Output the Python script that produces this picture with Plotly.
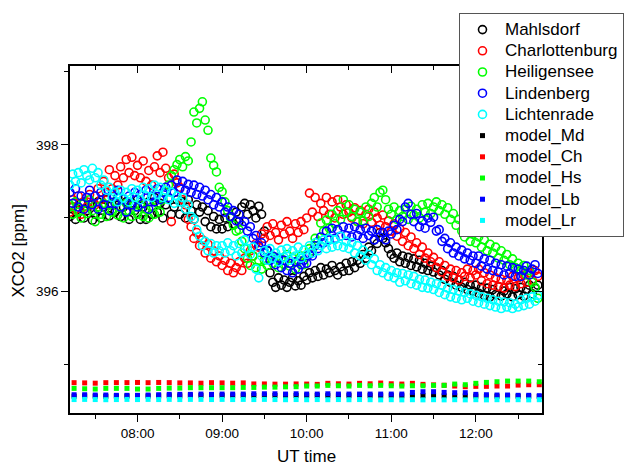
import plotly.graph_objects as go
from datetime import datetime, timedelta

FONT = "Liberation Sans, Arial, sans-serif"
DAY = "2000-01-01"

# ---------------- data ----------------
obs_start = "07:12"      # first observation time
obs_step_min = 2         # observation sampling (minutes)
mod_start = "07:15"      # first model time
mod_step_min = 7.5       # model sampling (minutes)

stations = ["Mahlsdorf", "Charlottenburg", "Heiligensee", "Lindenberg", "Lichtenrade"]
models = ["model_Md", "model_Ch", "model_Hs", "model_Lb", "model_Lr"]

mahlsdorf = [
    397.02, 397.15, 396.98, 397.12, 397.20, 397.00, 397.10, 397.18, 396.97,
    397.05, 397.22, 397.00, 397.15, 397.25, 397.03, 397.18, 397.08, 397.28, 397.02, 397.15, 397.22, 396.98, 397.20, 397.10,
    397.25, 396.98, 397.15, 396.98, 397.22, 397.05, 397.28, 397.08, 397.20, 397.00, 397.18, 397.27, 397.05, 397.15, 397.25,
    397.05, 397.22, 397.00, 397.25, 397.10, 396.98, 397.18, 397.08, 397.15, 396.95, 397.10, 396.88, 397.02, 396.85, 396.98,
    396.85, 397.00, 396.88, 397.02, 396.92, 397.08, 396.95, 397.15, 397.20, 397.05, 397.18, 397.10, 397.00, 397.16, 397.05,
    396.82, 396.55, 396.25, 396.12, 396.05, 396.18, 396.08, 396.15, 396.05, 396.12, 396.18, 396.07, 396.14, 396.08, 396.20,
    396.15, 396.25, 396.18, 396.28, 396.20, 396.32, 396.22, 396.30, 396.25, 396.35, 396.28, 396.22, 396.33, 396.27, 396.38,
    396.28, 396.40, 396.32, 396.42, 396.38, 396.50, 396.45, 396.60, 396.55, 396.70, 396.65, 396.80, 396.72, 396.66, 396.58,
    396.50, 396.45, 396.52, 396.40, 396.48, 396.38, 396.46, 396.35, 396.44, 396.33, 396.42, 396.30, 396.38, 396.28, 396.34,
    396.26, 396.32, 396.22, 396.28, 396.16, 396.22, 396.12, 396.20, 396.08, 396.15, 396.05, 396.12, 396.02, 396.08, 396.00,
    396.08, 395.97, 396.05, 395.94, 396.04, 395.92, 396.02, 395.95, 396.06, 395.93, 396.00, 395.96, 396.05, 395.92, 396.03,
    395.95, 396.05, 395.93, 396.02, 396.08, 395.96, 396.04, 396.08,
]
charlottenburg = [
    397.08, 397.25, 397.12, 397.30, 397.05, 397.22, 397.15, 397.32, 397.20,
    397.18, 397.40, 397.25, 397.50, 397.35, 397.66, 397.40, 397.58, 397.45, 397.70, 397.55, 397.80, 397.62, 397.83, 397.58,
    397.72, 397.55, 397.78, 397.50, 397.65, 397.45, 397.70, 397.85, 397.62, 397.90, 397.68, 397.55, 396.95, 397.60, 397.48,
    397.42, 397.25, 397.18, 396.98, 396.88, 396.72, 396.80, 396.62, 396.70, 396.52, 396.64, 396.45, 396.55, 396.40, 396.48,
    396.35, 396.42, 396.28, 396.38, 396.25, 396.32, 396.40, 396.28, 396.45, 396.38, 396.55, 396.48, 396.65, 396.60, 396.78,
    396.72, 396.88, 396.76, 396.92, 396.80, 396.70, 396.90, 396.78, 396.95, 396.82, 396.72, 396.92, 396.80, 396.95, 396.84,
    397.00, 397.34, 397.08, 397.28, 397.02, 397.20, 397.10, 397.28, 397.05, 397.22, 397.00, 397.25, 397.15, 397.05, 397.18,
    397.08, 397.00, 397.14, 396.95, 397.10, 396.92, 397.05, 397.12, 396.94, 397.08, 397.00, 396.90, 397.04, 396.88, 396.96,
    396.82, 396.92, 396.75, 396.85, 396.68, 396.80, 396.62, 396.74, 396.58, 396.66, 396.50, 396.60, 396.45, 396.52, 396.40,
    396.46, 396.32, 396.40, 396.26, 396.35, 396.20, 396.30, 396.18, 396.28, 396.15, 396.25, 396.20, 396.30, 396.18, 396.28,
    396.22, 396.30, 396.14, 396.25, 396.10, 396.22, 396.08, 396.18, 396.06, 396.16, 396.04, 396.15, 396.08, 396.20, 396.06,
    396.18, 396.10, 396.22, 396.12, 396.25, 396.15, 396.28, 396.20,
]
heiligensee = [
    397.18, 397.05, 397.22, 397.08, 397.00, 397.20, 397.06, 397.25, 397.10,
    396.95, 397.15, 397.05, 397.20, 397.02, 397.18, 397.08, 397.22, 397.04, 397.16, 397.00, 397.20, 397.10, 397.02, 397.18,
    397.05, 397.18, 397.02, 397.12, 397.00, 397.15, 397.05, 397.20, 397.08, 397.25, 397.35, 397.45, 397.58, 397.66, 397.73,
    397.80, 397.70, 397.84, 397.78, 398.04, 398.45, 398.30, 398.50, 398.59, 398.34, 398.20, 397.82, 397.72, 397.63, 397.42,
    397.36, 397.22, 397.10, 397.00, 396.90, 396.82, 396.84, 396.68, 396.58, 396.45, 396.35, 396.48, 396.32, 396.42, 396.30,
    396.42, 396.35, 396.48, 396.38, 396.46, 396.32, 396.44, 396.36, 396.50, 396.34, 396.45, 396.30, 396.42, 396.48, 396.36,
    396.48, 396.58, 396.55, 396.72, 396.68, 396.93, 396.82, 396.97, 396.86, 397.05, 396.92, 397.10, 396.98, 397.25, 397.08,
    397.18, 397.02, 397.12, 396.95, 397.08, 396.96, 397.15, 397.02, 397.20, 397.28, 397.15, 397.35, 397.38, 397.25, 397.12,
    397.05, 397.15, 396.98, 397.10, 397.02, 397.12, 396.98, 397.16, 397.04, 397.12, 397.00, 397.18, 397.08, 397.20, 397.06,
    397.15, 397.22, 397.10, 397.18, 397.05, 397.14, 396.98, 397.06, 396.90, 396.98, 396.82, 396.74, 396.84, 396.68, 396.78,
    396.66, 396.74, 396.60, 396.70, 396.55, 396.64, 396.52, 396.60, 396.45, 396.55, 396.42, 396.50, 396.36, 396.44, 396.32,
    396.38, 396.28, 396.35, 396.22, 396.28, 396.12, 396.05, 395.90,
]
lindenberg = [
    397.35, 397.20, 397.40, 397.15, 397.30, 397.12, 397.28, 397.38, 397.18,
    397.30, 397.12, 397.35, 397.18, 397.28, 397.10, 397.32, 397.20, 397.38, 397.15, 397.26, 397.08, 397.30, 397.18, 397.35,
    397.15, 397.32, 397.20, 397.38, 397.12, 397.30, 397.22, 397.40, 397.25, 397.35, 397.42, 397.28, 397.45, 397.35, 397.52,
    397.40, 397.50, 397.38, 397.46, 397.35, 397.45, 397.32, 397.42, 397.30, 397.38, 397.25, 397.32, 397.18, 397.28, 397.15,
    397.22, 397.08, 397.15, 397.02, 397.10, 396.96, 397.05, 396.90, 396.95, 396.82, 396.88, 396.72, 396.76, 396.62, 396.66,
    396.52, 396.56, 396.42, 396.48, 396.36, 396.45, 396.32, 396.42, 396.28, 396.38, 396.25, 396.40, 396.30, 396.36, 396.42,
    396.38, 396.50, 396.48, 396.62, 396.58, 396.74, 396.66, 396.82, 396.70, 396.86, 396.72, 396.84, 396.75, 396.88, 396.76,
    396.86, 396.74, 396.88, 396.76, 396.84, 396.72, 396.86, 396.76, 396.82, 396.70, 396.84, 396.74, 396.80, 396.70, 396.82,
    396.78, 396.90, 396.84, 396.98, 396.95, 397.15, 397.20, 397.05, 396.95, 397.06, 396.88, 396.96, 396.86, 397.00, 396.94,
    397.01, 396.82, 396.84, 396.68, 396.72, 396.58, 396.66, 396.52, 396.60, 396.48, 396.56, 396.44, 396.52, 396.42, 396.48,
    396.38, 396.48, 396.34, 396.44, 396.30, 396.42, 396.28, 396.38, 396.26, 396.36, 396.22, 396.34, 396.24, 396.32, 396.20,
    396.30, 396.20, 396.28, 396.34, 396.22, 396.30, 396.36, 396.24,
]
lichtenrade = [
    397.45, 397.60, 397.50, 397.62, 397.48, 397.66, 397.58, 397.52, 397.68,
    397.55, 397.62, 397.45, 397.52, 397.38, 397.42, 397.28, 397.35, 397.22, 397.38, 397.27, 397.35, 397.22, 397.40, 397.28,
    397.38, 397.25, 397.42, 397.30, 397.40, 397.28, 397.45, 397.32, 397.42, 397.28, 397.38, 397.25, 397.35, 397.20, 397.30,
    397.22, 397.28, 397.12, 397.18, 397.02, 396.98, 396.84, 396.75, 396.62, 396.68, 396.55, 396.65, 396.52, 396.62, 396.55,
    396.62, 396.52, 396.66, 396.55, 396.62, 396.48, 396.65, 396.52, 396.70, 396.58, 396.50, 396.60, 396.30, 396.18, 396.48,
    396.55, 396.42, 396.58, 396.45, 396.52, 396.40, 396.56, 396.46, 396.58, 396.42, 396.55, 396.48, 396.60, 396.45, 396.56,
    396.50, 396.62, 396.52, 396.66, 396.55, 396.62, 396.70, 396.58, 396.72, 396.60, 396.70, 396.62, 396.75, 396.60, 396.68,
    396.58, 396.66, 396.52, 396.62, 396.48, 396.56, 396.42, 396.50, 396.36, 396.44, 396.28, 396.36, 396.25, 396.32, 396.20,
    396.28, 396.18, 396.25, 396.12, 396.24, 396.14, 396.22, 396.10, 396.20, 396.08, 396.16, 396.05, 396.15, 396.04, 396.12,
    396.02, 396.10, 395.98, 396.08, 395.95, 396.04, 395.92, 396.02, 395.90, 396.00, 395.88, 395.98, 395.90, 395.96, 395.86,
    395.94, 395.84, 395.92, 395.82, 395.90, 395.80, 395.88, 395.78, 395.86, 395.76, 395.85, 395.78, 395.84, 395.76, 395.82,
    395.78, 395.88, 395.80, 395.90, 395.82, 395.92, 395.86, 395.94,
]

model_md = [
    394.560, 394.562, 394.560, 394.558, 394.560, 394.562, 394.560, 394.562, 394.564, 394.566,
    394.564, 394.566, 394.568, 394.566, 394.568, 394.566, 394.568, 394.570, 394.568, 394.570,
    394.568, 394.570, 394.568, 394.570, 394.568, 394.566, 394.568, 394.566, 394.568, 394.566,
    394.568, 394.566, 394.568, 394.566, 394.566, 394.564, 394.566, 394.564, 394.562, 394.560,
    394.560, 394.558, 394.558, 394.556, 394.556,
]
model_ch = [
    394.745, 394.742, 394.738, 394.745, 394.746, 394.746, 394.748, 394.745, 394.748, 394.746,
    394.742, 394.742, 394.738, 394.745, 394.742, 394.738, 394.742, 394.728, 394.728, 394.725,
    394.725, 394.728, 394.726, 394.722, 394.736, 394.730, 394.726, 394.736, 394.730, 394.740,
    394.730, 394.726, 394.736, 394.722, 394.715, 394.710, 394.699, 394.690, 394.695, 394.695,
    394.699, 394.699, 394.712, 394.717, 394.717,
]
model_hs = [
    394.667, 394.662, 394.658, 394.667, 394.667, 394.667, 394.658, 394.658, 394.667, 394.671,
    394.671, 394.676, 394.676, 394.676, 394.676, 394.676, 394.680, 394.680, 394.684, 394.684,
    394.688, 394.690, 394.699, 394.699, 394.708, 394.703, 394.699, 394.708, 394.703, 394.708,
    394.703, 394.699, 394.703, 394.703, 394.708, 394.708, 394.726, 394.717, 394.736, 394.749,
    394.758, 394.767, 394.767, 394.767, 394.758,
]
model_lb = [
    394.580, 394.580, 394.576, 394.576, 394.572, 394.572, 394.572, 394.576, 394.580, 394.585,
    394.585, 394.585, 394.589, 394.585, 394.589, 394.589, 394.589, 394.593, 394.593, 394.593,
    394.589, 394.593, 394.589, 394.589, 394.593, 394.589, 394.589, 394.589, 394.589, 394.589,
    394.589, 394.589, 394.612, 394.621, 394.621, 394.612, 394.608, 394.608, 394.585, 394.580,
    394.576, 394.576, 394.572, 394.572, 394.567,
]
model_lr = [
    394.514, 394.516, 394.514, 394.512, 394.514, 394.516, 394.514, 394.516, 394.514, 394.516,
    394.514, 394.516, 394.516, 394.514, 394.516, 394.514, 394.516, 394.514, 394.516, 394.514,
    394.512, 394.514, 394.512, 394.514, 394.512, 394.514, 394.512, 394.514, 394.512, 394.510,
    394.512, 394.510, 394.512, 394.510, 394.512, 394.510, 394.512, 394.510, 394.512, 394.510,
    394.512, 394.510, 394.512, 394.510, 394.512,
]

station_values = [mahlsdorf, charlottenburg, heiligensee, lindenberg, lichtenrade]
model_values = [model_md, model_ch, model_hs, model_lb, model_lr]
colors = ["#000000", "#ff0000", "#00ff00", "#0000ff", "#00ffff"]

x_range = [DAY + " 07:12:06", DAY + " 12:46:56"]
y_range = [394.33, 399.08]


def time_axis(start, step, n):
    t0 = datetime.strptime(DAY + " " + start, "%Y-%m-%d %H:%M")
    return [(t0 + timedelta(minutes=step * i)).strftime("%Y-%m-%d %H:%M:%S") for i in range(n)]


fig = go.Figure()

for name, vals, col in zip(stations, station_values, colors):
    fig.add_trace(go.Scatter(
        x=time_axis(obs_start, obs_step_min, len(vals)), y=vals, mode="markers",
        name="<span style='font-size:17px'>" + name + "</span>",
        marker=dict(symbol="circle-open", size=8, color=col, line=dict(width=1.6, color=col)),
    ))

for name, vals, col in zip(models, model_values, colors):
    fig.add_trace(go.Scatter(
        x=time_axis(mod_start, mod_step_min, len(vals)), y=vals, mode="markers",
        name="<span style='font-size:17px'>" + name + "</span>",
        marker=dict(symbol="square", size=5, color=col, line=dict(width=0)),
    ))

# dummy trace so the mirrored (inside-tick) axes exist
fig.add_trace(go.Scatter(x=[], y=[], xaxis="x2", yaxis="y2", showlegend=False, hoverinfo="skip"))

tick_common = dict(tickcolor="black", tickwidth=1.3, showgrid=False, zeroline=False)

fig.update_layout(
    width=635, height=466,
    margin=dict(l=70, r=92, t=66, b=53),
    paper_bgcolor="white", plot_bgcolor="white",
    font=dict(family=FONT, size=13.5, color="black"),
    legend=dict(
        x=0.8224, y=1.1527, xanchor="left", yanchor="top",
        bordercolor="#555555", borderwidth=1, bgcolor="white",
        font=dict(family=FONT, size=14, color="black"),
        tracegroupgap=0, itemwidth=35,
    ),
    xaxis=dict(
        type="date", range=x_range, showline=True, linecolor="black", linewidth=1.5, mirror=True,
        ticks="outside", ticklen=7, dtick=3600000, tick0=DAY + " 08:00", tickformat="%H:%M",
        tickfont=dict(size=13.5), ticklabelstandoff=0,
        minor=dict(ticks="outside", ticklen=4, dtick=1800000, tick0=DAY + " 08:00",
                   tickcolor="black", tickwidth=1.3, showgrid=False),
        **tick_common,
    ),
    yaxis=dict(
        range=y_range, showline=True, linecolor="black", linewidth=1.5, mirror=True,
        ticks="outside", ticklen=7, dtick=2, tick0=396, tickfont=dict(size=13.5),
        minor=dict(ticks="outside", ticklen=4, dtick=1, tick0=396,
                   tickcolor="black", tickwidth=1.3, showgrid=False),
        **tick_common,
    ),
    xaxis2=dict(
        type="date", range=x_range, overlaying="x", side="top", anchor="y",
        ticks="inside", ticklen=7, dtick=3600000, tick0=DAY + " 08:00", showticklabels=False,
        showline=False,
        minor=dict(ticks="inside", ticklen=4, dtick=1800000, tick0=DAY + " 08:00",
                   tickcolor="black", tickwidth=1.3, showgrid=False),
        **tick_common,
    ),
    yaxis2=dict(
        range=y_range, overlaying="y", side="right", anchor="x",
        ticks="inside", ticklen=7, dtick=2, tick0=396, showticklabels=False, showline=False,
        minor=dict(ticks="inside", ticklen=4, dtick=1, tick0=396,
                   tickcolor="black", tickwidth=1.3, showgrid=False),
        **tick_common,
    ),
    annotations=[
        dict(text="XCO2 [ppm]", xref="paper", yref="paper", x=-0.1089, y=0.4669,
             textangle=-90, showarrow=False, font=dict(family=FONT, size=17),
             xanchor="center", yanchor="middle"),
        dict(text="UT time", xref="paper", yref="paper", x=0.5, y=-0.1268,
             showarrow=False, font=dict(family=FONT, size=17),
             xanchor="center", yanchor="middle"),
    ],
)

fig.write_html("out.html")
